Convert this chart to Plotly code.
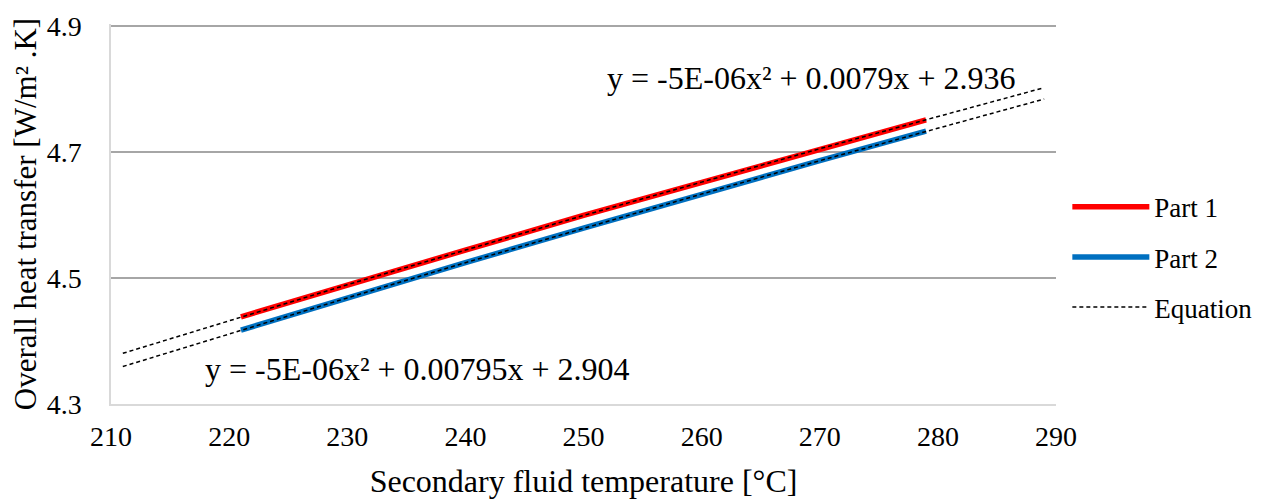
import plotly.graph_objects as go

# ---- data ----
temp = [221, 230, 240, 250, 260, 270, 279]
part1 = [4.438, 4.489, 4.544, 4.599, 4.652, 4.705, 4.751]
part2 = [4.417, 4.468, 4.524, 4.579, 4.633, 4.686, 4.733]

eq_temp = [211, 221, 230, 240, 250, 260, 270, 279, 289]
eq1 = [4.380, 4.438, 4.489, 4.544, 4.599, 4.652, 4.705, 4.751, 4.802]
eq2 = [4.359, 4.417, 4.468, 4.524, 4.579, 4.633, 4.686, 4.733, 4.784]

eq1_label = "y = -5E-06x² + 0.0079x + 2.936"
eq2_label = "y = -5E-06x² + 0.00795x + 2.904"
x_ticks = [210, 220, 230, 240, 250, 260, 270, 280, 290]
y_ticks = [4.3, 4.5, 4.7, 4.9]

FONT = "Liberation Serif"

fig = go.Figure()
fig.add_trace(go.Scatter(x=temp, y=part1, mode="lines", name="Part 1",
                         line=dict(color="#FF0000", width=5.5), legendgroup="p1",
                         legendrank=1))
fig.add_trace(go.Scatter(x=temp, y=part2, mode="lines", name="Part 2",
                         line=dict(color="#0070C0", width=5.5), legendgroup="p2",
                         legendrank=2))
fig.add_trace(go.Scatter(x=eq_temp, y=eq1, mode="lines", name="Equation",
                         line=dict(color="#000000", width=1.5, dash="4px,3px"),
                         legendgroup="eq", legendrank=3))
fig.add_trace(go.Scatter(x=eq_temp, y=eq2, mode="lines", name="Equation",
                         line=dict(color="#000000", width=1.5, dash="4px,3px"),
                         legendgroup="eq", showlegend=False))

fig.add_annotation(x=269.3, y=4.8175, xref="x", yref="y", text=eq1_label,
                   showarrow=False, font=dict(size=32, color="#000000", family=FONT))
fig.add_annotation(x=217.8, y=4.3556, xref="x", yref="y", text=eq2_label,
                   showarrow=False, xanchor="left",
                   font=dict(size=32, color="#000000", family=FONT))

# page body has an 8px margin, so the figure is sized/offset to compensate
fig.update_layout(
    width=1265, height=491,
    margin=dict(l=103, r=217, t=16, b=95, autoexpand=False),
    paper_bgcolor="white", plot_bgcolor="white",
    font=dict(family=FONT, size=28, color="#000000"),
    legend=dict(x=1.012, xanchor="left", y=0.386, yanchor="middle",
                font=dict(size=27, family=FONT), itemwidth=77,
                tracegroupgap=12, traceorder="grouped",
                bgcolor="rgba(0,0,0,0)"),
    xaxis=dict(range=[210, 290], tickvals=x_ticks, showgrid=False,
               showline=True, linecolor="#D9D9D9", linewidth=1.5,
               zeroline=False, ticks="", ticklabelstandoff=7,
               tickfont=dict(size=28, family=FONT),
               title=dict(text="Secondary fluid temperature [°C]",
                          font=dict(size=32, family=FONT), standoff=19)),
    yaxis=dict(range=[4.2995, 4.90317], tickvals=y_ticks, tickformat=".1f",
               showgrid=True, gridcolor="#A6A6A6", gridwidth=1.5,
               showline=True, linecolor="#D9D9D9", linewidth=1.5,
               zeroline=False, ticks="", ticklabelstandoff=22,
               tickfont=dict(size=28, family=FONT),
               title=dict(text="Overall heat transfer [W/m² .K]",
                          font=dict(size=31, family=FONT), standoff=2)),
)

fig.write_html("out.html")
